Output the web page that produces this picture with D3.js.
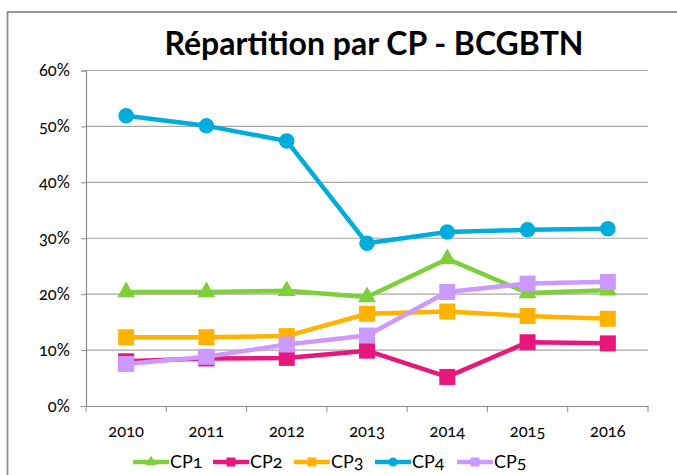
<html>
<head>
<meta charset="utf-8">
<script src="https://d3js.org/d3.v7.min.js"></script>
<style>
body { margin: 0; background: #fff; }
text { font-family: Lato, "Open Sans", sans-serif; font-variant-numeric: oldstyle-nums; font-feature-settings: "onum" 1; }
</style>
</head>
<body>
<script>
var years = ["2010", "2011", "2012", "2013", "2014", "2015", "2016"];
var cp1 = [20.4, 20.4, 20.6, 19.5, 26.3, 20.2, 20.7];
var cp2 = [8.0, 8.5, 8.6, 9.9, 5.2, 11.4, 11.2];
var cp3 = [12.3, 12.3, 12.5, 16.5, 16.9, 16.1, 15.6];
var cp4 = [51.9, 50.1, 47.4, 29.1, 31.1, 31.5, 31.7];
var cp5 = [7.5, 8.8, 11.0, 12.6, 20.4, 21.9, 22.2];
var yTicks = [0, 10, 20, 30, 40, 50, 60];

var series = [
  {name: "CP1", values: cp1, color: "#7ecf3a", shape: "triangle"},
  {name: "CP2", values: cp2, color: "#e8177c", shape: "square"},
  {name: "CP3", values: cp3, color: "#ffb300", shape: "square"},
  {name: "CP4", values: cp4, color: "#00acdc", shape: "circle"},
  {name: "CP5", values: cp5, color: "#cc99ff", shape: "square"}
];

var width = 677, height = 475;
var plotLeft = 86, plotRight = 648, plotTop = 70.5, plotBottom = 406;

var svg = d3.select("body").append("svg")
    .attr("width", width)
    .attr("height", height);

// outer chart frame (cut off on right and bottom)
svg.append("rect")
    .attr("x", 7.5).attr("y", 12)
    .attr("width", 720).attr("height", 520)
    .attr("fill", "none")
    .attr("stroke", "#8c8c8c")
    .attr("stroke-width", 1.8);

var x = d3.scaleBand().domain(years).range([plotLeft, plotRight]);
var y = d3.scaleLinear().domain([0, 60]).range([plotBottom, plotTop]);

// gridlines
svg.append("g").selectAll("line")
    .data(yTicks.filter(function(d) { return d > 0; }))
    .enter().append("line")
    .attr("x1", plotLeft).attr("x2", plotRight)
    .attr("y1", function(d) { return y(d); })
    .attr("y2", function(d) { return y(d); })
    .attr("stroke", "#a6a6a6")
    .attr("stroke-width", 1.2);

var yAxis = svg.append("g")
    .attr("transform", "translate(" + plotLeft + ",0)")
    .call(d3.axisLeft(y).tickValues(yTicks).tickSize(5).tickPadding(11)
        .tickFormat(function(d) { return d + "%"; }));

var xAxis = svg.append("g")
    .attr("transform", "translate(0," + plotBottom + ")")
    .call(d3.axisBottom(x).tickSize(0).tickPadding(19));

// x ticks sit on band boundaries
svg.append("g").selectAll("line")
    .data(d3.range(years.length + 1))
    .enter().append("line")
    .attr("x1", function(i) { return plotLeft + i * x.step(); })
    .attr("x2", function(i) { return plotLeft + i * x.step(); })
    .attr("y1", plotBottom).attr("y2", plotBottom + 6)
    .attr("stroke", "#8c8c8c");

[yAxis, xAxis].forEach(function(a) {
  a.select(".domain").attr("stroke", "#8c8c8c").attr("stroke-width", 1.2);
  a.selectAll(".tick line").attr("stroke", "#8c8c8c");
  a.selectAll("text").attr("fill", "#000").style("font-size", "16.5px");
});

svg.append("text")
    .attr("x", 374).attr("y", 55)
    .attr("text-anchor", "middle")
    .style("font-size", "32px")
    .style("font-weight", "bold")
    .attr("fill", "#000")
    .text("Répartition par CP - BCGBTN");

function marker(g, shape, color, size) {
  if (shape === "circle") {
    return g.append("circle").attr("r", size / 2).attr("fill", color);
  }
  var sym = shape === "triangle" ? d3.symbolTriangle : d3.symbolSquare;
  var area = shape === "triangle" ? size * size * 0.433 : size * size;
  return g.append("path").attr("d", d3.symbol().type(sym).size(area)()).attr("fill", color);
}

var line = d3.line()
    .x(function(d, i) { return x(years[i]) + x.bandwidth() / 2; })
    .y(function(d) { return y(d); });

var markerSize = {triangle: 18, square: 16, circle: 15.5};

series.forEach(function(s) {
  var g = svg.append("g");
  g.append("path")
    .attr("d", line(s.values))
    .attr("fill", "none")
    .attr("stroke", s.color)
    .attr("stroke-width", 4.5)
    .attr("stroke-linejoin", "round");
  s.values.forEach(function(v, i) {
    var m = g.append("g")
      .attr("transform", "translate(" + (x(years[i]) + x.bandwidth() / 2) + "," + y(v) + ")");
    marker(m, s.shape, s.color, markerSize[s.shape]);
  });
});

// legend
var legendX = [133, 213, 294, 375, 457];
var legend = svg.append("g").selectAll("g")
    .data(series)
    .enter().append("g")
    .attr("transform", function(d, i) { return "translate(" + legendX[i] + ",462)"; });

legend.append("line")
    .attr("x1", 0).attr("x2", 36)
    .attr("stroke", function(d) { return d.color; })
    .attr("stroke-width", 4.5);
legend.each(function(d) {
  marker(d3.select(this).append("g").attr("transform", "translate(18,0)"), d.shape, d.color, d.shape === "triangle" ? 11 : 9);
});
legend.append("text")
    .attr("x", 37).attr("y", 0)
    .attr("dy", "0.35em")
    .style("font-size", "18px")
    .attr("fill", "#000")
    .text(function(d) { return d.name; });
</script>
</body>
</html>
